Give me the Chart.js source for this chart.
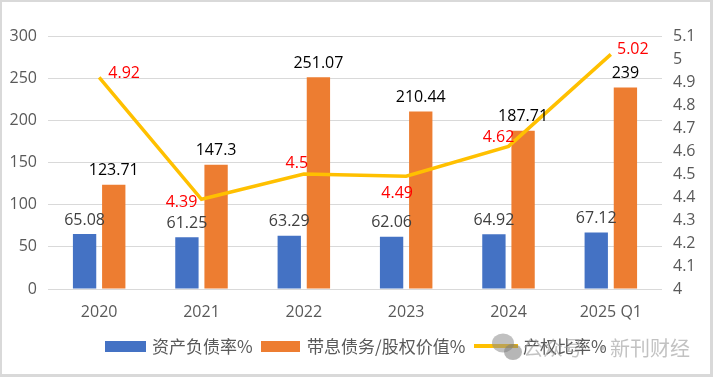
<!DOCTYPE html>
<html>
<head>
<meta charset="utf-8">
<script src="https://cdn.jsdelivr.net/npm/chart.js@4.4.1/dist/chart.umd.min.js"></script>
<style>
  html, body { margin: 0; padding: 0; background: #fff; }
  #wrap { width: 713px; height: 377px; }
</style>
</head>
<body>
<div id="wrap"><canvas id="c" width="713" height="377"></canvas></div>
<script>
// ---- data ----
const categories = ['2020', '2021', '2022', '2023', '2024', '2025 Q1'];
const debtRatio = [65.08, 61.25, 63.29, 62.06, 64.92, 67.12];           // 资产负债率%
const debtToEquityValue = [123.71, 147.3, 251.07, 210.44, 187.71, 239];  // 带息债务/股权价值%
const equityRatio = [4.92, 4.39, 4.5, 4.49, 4.62, 5.02];                 // 产权比率%
const leftTicks = [0, 50, 100, 150, 200, 250, 300];
const rightTicks = [4, 4.1, 4.2, 4.3, 4.4, 4.5, 4.6, 4.7, 4.8, 4.9, 5, 5.1];
const seriesNames = ['资产负债率%', '带息债务/股权价值%', '产权比率%'];

// ---- styles ----
const BLUE = '#4472C4', ORANGE = '#ED7D31', GOLD = '#FFC000';
const NUM_FONT = '"Open Sans", "Liberation Sans", sans-serif';
const CJK_FONT = '"Noto Sans CJK SC", "Noto Sans", sans-serif';
// label offsets (dx, dy) relative to line points
const lineLabelOffsets = [[25, -4], [-20, 3], [-7, -11], [-9, 17], [-10, -9], [22, -5]];

const framePlugin = {
  id: 'frame',
  beforeDraw(chart) {
    const ctx = chart.ctx;
    ctx.save();
    ctx.fillStyle = '#d9d9d9';
    ctx.fillRect(0, 0, 713, 377);
    ctx.fillStyle = '#ffffff';
    ctx.fillRect(2, 2, 708, 372);
    ctx.restore();
  }
};

const labelPlugin = {
  id: 'labels',
  afterDatasetsDraw(chart) {
    const ctx = chart.ctx;
    ctx.save();
    ctx.textAlign = 'center';
    ctx.textBaseline = 'middle';
    ctx.font = '16px ' + NUM_FONT;
    // bar labels
    [[1, '#404040'], [2, '#000000']].forEach(([di, color]) => {
      const meta = chart.getDatasetMeta(di);
      const data = chart.data.datasets[di].data;
      meta.data.forEach((el, i) => {
        ctx.fillStyle = color;
        ctx.fillText(String(data[i]), el.x, el.y - 14);
      });
    });
    // line labels
    const lm = chart.getDatasetMeta(0);
    const ld = chart.data.datasets[0].data;
    ctx.fillStyle = '#FF0000';
    lm.data.forEach((el, i) => {
      const o = lineLabelOffsets[i];
      ctx.fillText(String(ld[i]), el.x + o[0], el.y + o[1]);
    });
    ctx.restore();
  },
  afterDraw(chart) {
    const ctx = chart.ctx;
    ctx.save();
    // legend
    const cy = 347;
    ctx.font = '17px ' + CJK_FONT;
    ctx.textBaseline = 'middle';
    ctx.textAlign = 'left';
    ctx.fillStyle = BLUE;
    ctx.fillRect(105, 341, 41, 11);
    ctx.fillStyle = '#595959';
    ctx.fillText(seriesNames[0], 152, cy);
    ctx.fillStyle = ORANGE;
    ctx.fillRect(261, 341, 39, 11);
    ctx.fillStyle = '#595959';
    ctx.fillText(seriesNames[1], 307, cy);
    ctx.strokeStyle = GOLD;
    ctx.lineWidth = 4;
    ctx.beginPath();
    ctx.moveTo(474, 346);
    ctx.lineTo(518, 346);
    ctx.stroke();
    ctx.fillStyle = '#595959';
    ctx.fillText(seriesNames[2], 523, cy);
    // watermark
    ctx.globalAlpha = 0.55;
    ctx.fillStyle = '#8c8c8c';
    ctx.beginPath();
    ctx.ellipse(503, 343, 11, 9.5, 0, 0, Math.PI * 2);
    ctx.fill();
    ctx.fillStyle = '#7a7a7a';
    ctx.beginPath();
    ctx.ellipse(513, 352, 9, 8, 0, 0, Math.PI * 2);
    ctx.fill();
    ctx.globalAlpha = 0.6;
    ctx.fillStyle = '#9a9a9a';
    ctx.font = '20px ' + CJK_FONT;
    ctx.fillText('公众号', 523, cy + 1);
    ctx.fillText('·', 592, cy + 1);
    ctx.fillText('新刊财经', 610, cy + 1);
    ctx.restore();
  }
};

new Chart(document.getElementById('c'), {
  data: {
    labels: categories,
    datasets: [
      {
        type: 'line', label: seriesNames[2], data: equityRatio, yAxisID: 'y1',
        borderColor: GOLD, backgroundColor: GOLD, borderWidth: 3.5,
        pointRadius: 0, tension: 0, order: 0
      },
      {
        type: 'bar', label: seriesNames[0], data: debtRatio, yAxisID: 'y',
        backgroundColor: BLUE, categoryPercentage: 0.57, barPercentage: 0.8, order: 1
      },
      {
        type: 'bar', label: seriesNames[1], data: debtToEquityValue, yAxisID: 'y',
        backgroundColor: ORANGE, categoryPercentage: 0.57, barPercentage: 0.8, order: 1
      }
    ]
  },
  options: {
    responsive: false,
    animation: false,
    devicePixelRatio: 1,
    layout: { padding: { left: 2, right: 2, top: 36, bottom: 0 } },
    plugins: { legend: { display: false }, tooltip: { enabled: false } },
    scales: {
      x: {
        grid: { display: false },
        border: { display: false },
        ticks: { color: '#595959', font: { size: 16, family: NUM_FONT }, padding: 6, maxRotation: 0 },
        afterFit(s) { s.height = 88; }
      },
      y: {
        position: 'left', min: 0, max: 300,
        grid: { color: '#d9d9d9', lineWidth: 1, drawTicks: false },
        border: { display: false },
        ticks: { color: '#595959', font: { size: 16, family: NUM_FONT }, padding: 11 },
        afterBuildTicks(s) { s.ticks = leftTicks.map(v => ({ value: v })); },
        afterFit(s) { s.width = 46; }
      },
      y1: {
        position: 'right', min: 4, max: 5.1,
        grid: { display: false, drawTicks: false },
        border: { display: false },
        ticks: {
          color: '#595959', font: { size: 16, family: NUM_FONT }, padding: 11,
          callback: v => String(Math.round(v * 10) / 10)
        },
        afterBuildTicks(s) { s.ticks = rightTicks.map(v => ({ value: v })); },
        afterFit(s) { s.width = 49; }
      }
    }
  },
  plugins: [framePlugin, labelPlugin]
});
</script>
</body>
</html>
